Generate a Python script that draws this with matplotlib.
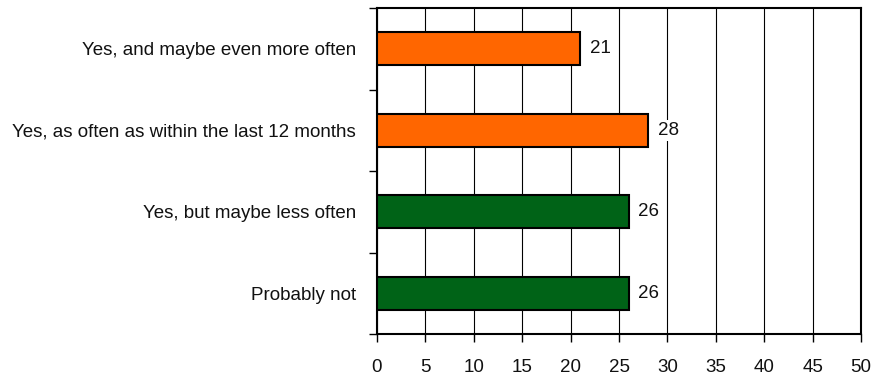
import matplotlib
matplotlib.use("Agg")
import matplotlib.pyplot as plt
from matplotlib import font_manager
from matplotlib.ticker import FixedLocator, NullFormatter

names = {f.name for f in font_manager.fontManager.ttflist}
family = "Liberation Sans Narrow" if "Liberation Sans Narrow" in names else "Liberation Sans"
plt.rcParams["font.family"] = [family, "DejaVu Sans"]
fs = 15 if family == "Liberation Sans Narrow" else 13.5

categories = [
    "Yes, and maybe even more often",
    "Yes, as often as within the last 12 months",
    "Yes, but maybe less often",
    "Probably not",
]
values = [21, 28, 26, 26]
colors = ["#FF6600", "#FF6600", "#006317", "#006317"]
x_ticks = [0, 5, 10, 15, 20, 25, 30, 35, 40, 45, 50]

fig = plt.figure(figsize=(8.81, 3.83), dpi=100)
ax = fig.add_axes([377 / 881, 49 / 383, 484 / 881, 326 / 383])

pos = list(range(len(categories)))
ax.barh(pos, values, height=0.41, color=colors, edgecolor="black", linewidth=1.5, zorder=3)

for p, v in zip(pos, values):
    ax.annotate(str(v), (v, p), xytext=(7, 0), textcoords="offset points",
                va="center", ha="left", fontsize=fs, color="#111111", zorder=4,
                bbox=dict(boxstyle="square,pad=0.1", facecolor="white", edgecolor="none"))

ax.set_xlim(0, 50)
ax.set_ylim(len(categories) - 0.5, -0.5)
ax.set_xticks(x_ticks)
ax.set_xticklabels([str(t) for t in x_ticks], fontsize=fs, color="#111111")
ax.xaxis.grid(True, color="black", linewidth=0.8, zorder=0)
ax.tick_params(axis="x", direction="out", length=6, width=1, pad=12, color="black")

# boundary ticks on the y axis, category names centred between them
ax.yaxis.set_major_locator(FixedLocator([i - 0.5 for i in range(len(categories) + 1)]))
ax.yaxis.set_major_formatter(NullFormatter())
ax.yaxis.set_minor_locator(FixedLocator(pos))
ax.set_yticklabels(categories, minor=True, fontsize=fs, color="#111111")
ax.tick_params(axis="y", which="major", direction="out", length=6, width=1, color="black")
ax.tick_params(axis="y", which="minor", length=0, pad=15)

for s in ax.spines.values():
    s.set_linewidth(1.5)
    s.set_color("black")

fig.savefig("out.png", dpi=100)
